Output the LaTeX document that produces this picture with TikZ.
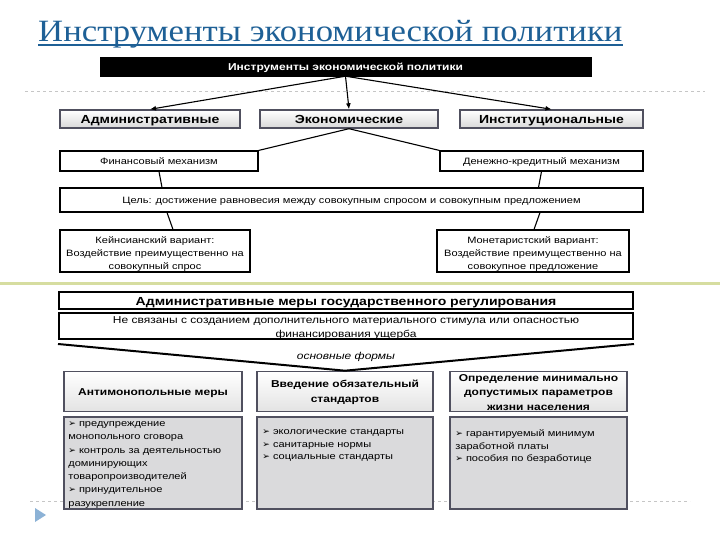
\documentclass[tikz,border=0pt]{standalone}
\usepackage{fontspec}
\setmainfont[FakeStretch=1.2]{Liberation Sans}
\newfontfamily\titlefont[FakeStretch=1.12]{Liberation Serif}
\newfontfamily\symfont{DejaVu Sans}
\usetikzlibrary{arrows.meta}
\definecolor{titleblue}{RGB}{30,96,150}
\definecolor{hdrborder}{RGB}{80,80,95}
\definecolor{contentfill}{RGB}{218,218,220}
\definecolor{sepgreen}{RGB}{214,221,160}
\newcommand{\bul}{{\symfont\fontsize{9}{10}\selectfont\char"27A2}\ }
\tikzset{
  oneline/.style={text height=8pt, text depth=1.2pt},
  plainbox/.style={draw=black, line width=1.1pt, fill=white, inner sep=0pt, align=center, font=\fontsize{9.2}{13}\selectfont},
  plaintext/.style={inner sep=0pt, align=center, font=\fontsize{9.2}{13}\selectfont},
  gradbox/.style={draw=hdrborder, line width=1.4pt, top color=white, bottom color=gray!30, inner sep=0pt, align=center, font=\bfseries\fontsize{11.7}{13}\selectfont, text height=10pt, text depth=1pt},
  thickbox/.style={draw=black, line width=2pt, fill=white, inner sep=0pt},
  hdrbox/.style={draw=hdrborder, line width=1.6pt, top color=white, bottom color=gray!22, inner sep=0pt, minimum height=40pt},
  hdrtext/.style={inner sep=0pt, align=center, font=\bfseries\fontsize{10}{14.5}\selectfont},
  contbox/.style={draw=hdrborder, line width=1.6pt, fill=contentfill, inner sep=0pt, anchor=north, minimum height=92pt},
  conttext/.style={anchor=north west, inner sep=0pt, align=left, font=\fontsize{9.2}{13.3}\selectfont},
  conn/.style={draw=black, line width=1.1pt},
  arr/.style={conn, -{Latex[length=6pt,width=5pt]}},
  sepline/.style={draw=gray!45, dashed, line width=0.6pt}
}
\begin{document}
\begin{tikzpicture}[x=1pt,y=-1pt]
\useasboundingbox (0,0) rectangle (720,540);
% background separators
\draw[sepline] (25,91) -- (705,91);
\draw[sepline] (30,501) -- (690,501);
\draw[draw=sepgreen, line width=3pt] (0,283) -- (720,283);
\fill[color={rgb,255:red,140;green,178;blue,214}] (35,508) -- (46,515) -- (35,522) -- cycle;

% title
\node[anchor=base west, inner sep=0pt, text=titleblue, font=\titlefont\fontsize{31}{36}\selectfont] (title) at (38,42) {Инструменты экономической политики};
\draw[titleblue, line width=1.2pt] ([yshift=-3pt]title.base west) -- ([yshift=-3pt]title.base east);

% top black box
\node[draw=black, fill=black, text=white, minimum width=491pt, minimum height=19pt, inner sep=0pt, text height=9pt, text depth=1pt, font=\bfseries\fontsize{10}{12}\selectfont] (blk) at (345.5,66.5) {Инструменты экономической политики};

% three types
\node[gradbox, minimum width=180pt, minimum height=18pt] (adm) at (150,119) {Административные};
\node[gradbox, minimum width=178pt, minimum height=18pt] (eco) at (349,119) {Экономические};
\node[gradbox, minimum width=183pt, minimum height=18pt] (ins) at (551.5,119) {Институциональные};
\draw[arr] (blk.south) -- (adm.north);
\draw[arr] (blk.south) -- (eco.north);
\draw[arr] (blk.south) -- (ins.north);

% mechanisms
\node[plainbox, oneline, minimum width=198pt, minimum height=20pt] (fin) at (159,161) {Финансовый механизм};
\node[plainbox, oneline, minimum width=203pt, minimum height=20pt] (mon) at (541.5,161) {Денежно-кредитный механизм};
\draw[conn] (eco.south) -- (fin.north east);
\draw[conn] (eco.south) -- (mon.north west);

% goal
\node[plainbox, oneline, minimum width=583pt, minimum height=24pt] (goal) at (351.5,200) {Цель: достижение равновесия между совокупным спросом и совокупным предложением};
\draw[conn] (fin.south) -- ([xshift=3pt]goal.north -| fin.south);
\draw[conn] (mon.south) -- ([xshift=-3pt]goal.north -| mon.south);

% variants
\node[plainbox, minimum width=190pt, minimum height=42pt] (key) at (155,251) {};
\node[plaintext] (keytext) at ([yshift=-3pt]key.center) {Кейнсианский вариант:\\Воздействие преимущественно на\\совокупный спрос};
\node[plainbox, minimum width=192pt, minimum height=42pt] (mnt) at (533,251) {};
\node[plaintext] (mnttext) at ([yshift=-3pt]mnt.center) {Монетаристский вариант:\\Воздействие преимущественно на\\совокупное предложение};
\draw[conn] ([xshift=12pt]key.north |- goal.south) -- ([xshift=18pt]key.north);
\draw[conn] ([xshift=7pt]mnt.north |- goal.south) -- ([xshift=1pt]mnt.north);

% administrative measures
\node[thickbox, minimum width=574pt, minimum height=17pt, text height=10pt, text depth=1pt, font=\bfseries\fontsize{11.7}{13}\selectfont] (am) at (346,300.5) {Административные меры государственного регулирования};
\node[thickbox, minimum width=574pt, minimum height=26pt] (nl) at (346,326) {};
\node[inner sep=0pt, align=center, font=\fontsize{10}{13.5}\selectfont] (nltext) at ([yshift=-2pt]nl.center) {Не связаны с созданием дополнительного материального стимула или опасностью\\финансирования ущерба};

% headers
\node[hdrbox, minimum width=178pt] (h1) at (153,391.5) {};
\node[hdrbox, minimum width=176pt] (h2) at (345,391.5) {};
\node[hdrbox, minimum width=177pt] (h3) at (538.5,391.5) {};
\node[hdrtext] (h1t) at ([yshift=-1.5pt]h1.center) {Антимонопольные меры};
\node[hdrtext] (h2t) at ([yshift=-1pt]h2.center) {Введение обязательный\\стандартов};
\node[hdrtext] (h3t) at ([yshift=-1pt]h3.center) {Определение минимально\\допустимых параметров\\жизни населения};

% V shape
\coordinate (vl) at ([yshift=-4pt]nl.south west);
\coordinate (vr) at ([yshift=-4pt]nl.south east);
\draw[draw=black, line width=2pt] (vl) -- (h2.north) -- (vr);
\node[font=\itshape\fontsize{10}{12}\selectfont, inner sep=0pt] (forms) at (346,357) {основные формы};

% contents
\node[contbox, minimum width=178pt] (c1) at ([yshift=-4pt]h1.south) {};
\node[contbox, minimum width=176pt] (c2) at ([yshift=-4pt]h2.south) {};
\node[contbox, minimum width=177pt] (c3) at ([yshift=-4pt]h3.south) {};
\node[conttext] (t1) at ([xshift=5pt,yshift=-5pt]c1.north west) {\bul предупреждение\\монопольного сговора\\\bul контроль за деятельностью\\доминирующих\\товаропроизводителей\\\bul принудительное\\разукрепление};
\node[conttext, font=\fontsize{9.2}{12.7}\selectfont] (t2) at ([xshift=6pt,yshift=-13pt]c2.north west) {\bul экологические стандарты\\\bul санитарные нормы\\\bul социальные стандарты};
\node[conttext, font=\fontsize{9.2}{12.7}\selectfont] (t3) at ([xshift=6pt,yshift=-13pt]c3.north west) {\bul гарантируемый минимум\\заработной платы\\\bul пособия по безработице};
\end{tikzpicture}
\end{document}
